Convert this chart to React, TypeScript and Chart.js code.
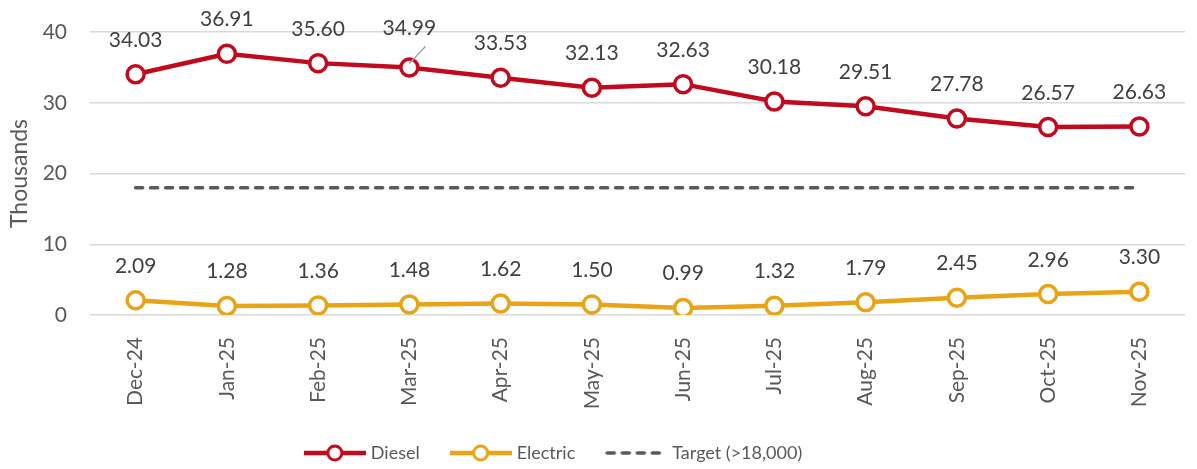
import React, { useEffect, useRef } from "react";
import { Chart, registerables } from "chart.js";

Chart.register(...registerables);

const months = ["Dec-24", "Jan-25", "Feb-25", "Mar-25", "Apr-25", "May-25", "Jun-25", "Jul-25", "Aug-25", "Sep-25", "Oct-25", "Nov-25"];
const diesel = [34.03, 36.91, 35.6, 34.99, 33.53, 32.13, 32.63, 30.18, 29.51, 27.78, 26.57, 26.63];
const electric = [2.09, 1.28, 1.36, 1.48, 1.62, 1.5, 0.99, 1.32, 1.79, 2.45, 2.96, 3.3];
const target = [18, 18, 18, 18, 18, 18, 18, 18, 18, 18, 18, 18];
const seriesNames = ["Diesel", "Electric", "Target (>18,000)"];

const RED = "#C00A1E";
const GOLD = "#E8A317";
const GREY = "#595959";
const FONT = "Lato";

function makeIcon(color: string, dashed: boolean) {
  const c = document.createElement("canvas");
  c.width = 62;
  c.height = 22;
  const g = c.getContext("2d")!;
  g.strokeStyle = color;
  if (dashed) {
    g.lineWidth = 3.5;
    g.lineCap = "round";
    g.setLineDash([7, 8]);
    g.beginPath();
    g.moveTo(2, 11);
    g.lineTo(60, 11);
    g.stroke();
  } else {
    g.lineWidth = 4.5;
    g.beginPath();
    g.moveTo(0, 11);
    g.lineTo(62, 11);
    g.stroke();
    g.beginPath();
    g.arc(31, 11, 7, 0, Math.PI * 2);
    g.fillStyle = "#ffffff";
    g.fill();
    g.lineWidth = 3;
    g.stroke();
  }
  return c;
}

const labelPlugin = {
  id: "valueLabels",
  afterDatasetsDraw(chart: any) {
    const ctx = chart.ctx;
    ctx.save();
    ctx.font = `21px ${FONT}`;
    ctx.fillStyle = "#404040";
    ctx.textAlign = "center";
    ctx.textBaseline = "alphabetic";
    [0, 1].forEach((di) => {
      const meta = chart.getDatasetMeta(di);
      const values = chart.data.datasets[di].data as number[];
      meta.data.forEach((pt: any, i: number) => {
        let dy = 35;
        if (di === 0 && i === 3) {
          dy = 40;
          ctx.save();
          ctx.strokeStyle = "#a6a6a6";
          ctx.lineWidth = 1.5;
          ctx.beginPath();
          ctx.moveTo(pt.x, pt.y - 4);
          ctx.lineTo(pt.x + 16, pt.y - 21);
          ctx.stroke();
          ctx.restore();
        }
        ctx.fillText(values[i].toFixed(2), pt.x, pt.y - dy + 7.5);
      });
    });
    ctx.restore();
  },
};

const legendShift = {
  id: "legendShift",
  afterLayout(chart: any) {
    if (chart.legend) {
      chart.legend.left -= 84;
    }
  },
};

export default function App() {
  const ref = useRef<HTMLCanvasElement | null>(null);

  useEffect(() => {
    if (!ref.current) return;
    const icons = [makeIcon(RED, false), makeIcon(GOLD, false), makeIcon(GREY, true)];
    const chart = new Chart(ref.current, {
      type: "line",
      data: {
        labels: months,
        datasets: [
          {
            label: seriesNames[0],
            data: diesel,
            borderColor: RED,
            backgroundColor: RED,
            borderWidth: 4.5,
            pointRadius: 8.5,
            pointBorderWidth: 3.5,
            pointBackgroundColor: "#ffffff",
            pointBorderColor: RED,
            tension: 0,
          },
          {
            label: seriesNames[1],
            data: electric,
            borderColor: GOLD,
            backgroundColor: GOLD,
            borderWidth: 4.5,
            pointRadius: 8.5,
            pointBorderWidth: 3.5,
            pointBackgroundColor: "#ffffff",
            pointBorderColor: GOLD,
            tension: 0,
          },
          {
            label: seriesNames[2],
            data: target,
            borderColor: GREY,
            backgroundColor: GREY,
            borderWidth: 3.5,
            borderDash: [7, 8],
            borderCapStyle: "round",
            pointRadius: 0,
            tension: 0,
          },
        ],
      },
      options: {
        animation: false,
        responsive: true,
        maintainAspectRatio: false,
        events: [],
        layout: { padding: { top: 32, right: 3, left: 0, bottom: 0 } },
        plugins: {
          tooltip: { enabled: false },
          legend: {
            position: "bottom",
            labels: {
              usePointStyle: true,
              pointStyleWidth: 54,
              padding: 34,
              color: GREY,
              font: { family: FONT, size: 18 },
              generateLabels: (c: any) => {
                const items = Chart.defaults.plugins.legend.labels.generateLabels(c);
                return items.map((it: any, i: number) => ({ ...it, pointStyle: icons[i], rotation: 0 }));
              },
            },
          },
        },
        scales: {
          x: {
            offset: true,
            grid: { display: false },
            border: { display: false },
            ticks: {
              minRotation: 90,
              maxRotation: 90,
              padding: 14,
              color: GREY,
              font: { family: FONT, size: 21 },
            },
            afterFit: (s: any) => {
              s.height = 95;
            },
          },
          y: {
            min: 0,
            max: 40,
            ticks: {
              stepSize: 10,
              padding: 23,
              color: GREY,
              font: { family: FONT, size: 21 },
            },
            grid: { color: "#d9d9d9", lineWidth: 1.5, drawTicks: false },
            border: { display: false },
            title: {
              display: true,
              text: "Thousands",
              color: GREY,
              font: { family: FONT, size: 23 },
              padding: { top: 6, bottom: 0 },
            },
            afterFit: (s: any) => {
              s.width = 90;
              s.paddingTop = 0;
              s.paddingBottom = 0;
            },
          },
        },
      },
      plugins: [labelPlugin, legendShift],
    } as any);
    return () => chart.destroy();
  }, []);

  return (
    <div style={{ position: "fixed", left: 0, top: 0, width: 1197, height: 469, overflow: "hidden", background: "#fff" }}>
      <div style={{ position: "relative", width: 1197, height: 472 }}>
        <canvas ref={ref} />
      </div>
    </div>
  );
}
